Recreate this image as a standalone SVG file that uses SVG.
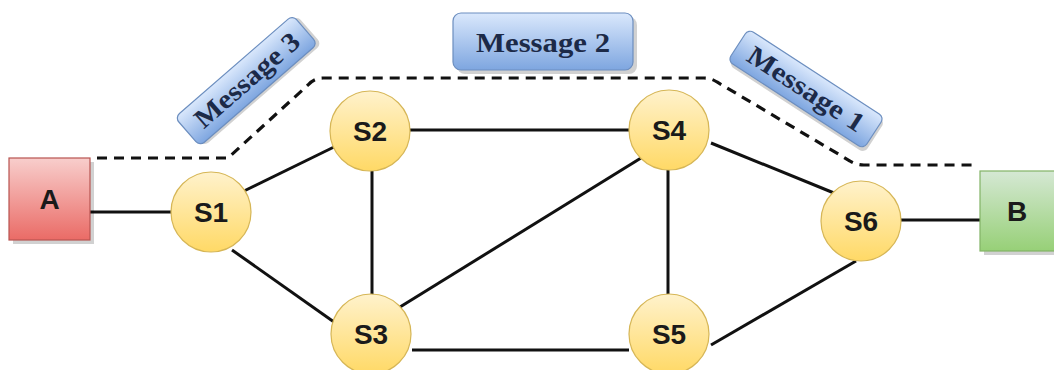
<svg xmlns="http://www.w3.org/2000/svg" width="1054" height="370" viewBox="0 0 1054 370">
  <defs>
    <linearGradient id="gY" x1="0" y1="0" x2="0" y2="1">
      <stop offset="0" stop-color="#fff2cc"/>
      <stop offset="1" stop-color="#ffd966"/>
    </linearGradient>
    <linearGradient id="gR" x1="0" y1="0" x2="0" y2="1">
      <stop offset="0" stop-color="#f8cecc"/>
      <stop offset="1" stop-color="#ea6b66"/>
    </linearGradient>
    <linearGradient id="gG" x1="0" y1="0" x2="0" y2="1">
      <stop offset="0" stop-color="#d5e8d4"/>
      <stop offset="1" stop-color="#97d077"/>
    </linearGradient>
    <linearGradient id="gB" x1="0" y1="0" x2="0" y2="1">
      <stop offset="0" stop-color="#dae8fc"/>
      <stop offset="1" stop-color="#7ea6e0"/>
    </linearGradient>
  </defs>
  <style>
    .sh { fill: #000; opacity: 0.18; }
    .sw { fill: url(#gY); stroke: #d6b656; stroke-width: 1.2; }
    .lbl { font-family: "Liberation Sans", Arial, sans-serif; font-weight: bold; font-size: 28px; fill: #1a1a1a; text-anchor: middle; }
    .msg { fill: url(#gB); stroke: #6c8ebf; stroke-width: 1.2; }
    .mt { font-family: "Liberation Serif", "Times New Roman", serif; font-weight: bold; font-size: 27px; fill: #1c2a48; text-anchor: middle; }
    .edge { stroke: #111; stroke-width: 3; fill: none; stroke-linecap: butt; }
    .dash { stroke: #111; stroke-width: 3.2; fill: none; stroke-dasharray: 10 7; }
  </style>

  <g id="connectors">
    <line class="edge" x1="90" y1="212" x2="172" y2="212"/>
    <line class="edge" x1="244" y1="191" x2="334" y2="147"/>
    <line class="edge" x1="232" y1="250" x2="334" y2="322"/>
    <line class="edge" x1="410" y1="130" x2="629" y2="130"/>
    <line class="edge" x1="372" y1="171" x2="372" y2="295"/>
    <line class="edge" x1="400" y1="307" x2="641" y2="158"/>
    <line class="edge" x1="412" y1="350" x2="629" y2="350"/>
    <line class="edge" x1="668" y1="170" x2="668" y2="294"/>
    <line class="edge" x1="711" y1="143" x2="834" y2="193"/>
    <line class="edge" x1="711" y1="345" x2="856" y2="261"/>
    <line class="edge" x1="901" y1="220" x2="980" y2="220"/>
    <path class="dash" d="M97,158 H228 L308,85 Q314,78 323,78 H704 Q711,78 717,82 L850,161 Q856,165 864,165 H975"/>
  </g>

  <g id="A">
    <rect class="sh" x="13" y="162" width="81" height="82"/>
    <rect x="9" y="158" width="81" height="82" fill="url(#gR)" stroke="#b85450" stroke-width="1.2"/>
    <text class="lbl" x="49.5" y="209">A</text>
  </g>
  <g id="B">
    <rect class="sh" x="984" y="175" width="72" height="80"/>
    <rect x="980" y="171" width="80" height="80" fill="url(#gG)" stroke="#82b366" stroke-width="1.2"/>
    <text class="lbl" x="1017" y="221">B</text>
  </g>

  <g id="S1">
    <circle class="sw" cx="211" cy="212" r="40"/>
    <text class="lbl" x="211" y="222">S1</text>
  </g>
  <g id="S2">
    <circle class="sw" cx="370" cy="131" r="40"/>
    <text class="lbl" x="370" y="141">S2</text>
  </g>
  <g id="S3">
    <circle class="sw" cx="371" cy="334" r="40"/>
    <text class="lbl" x="371" y="344">S3</text>
  </g>
  <g id="S4">
    <circle class="sw" cx="669" cy="130" r="40"/>
    <text class="lbl" x="669" y="140">S4</text>
  </g>
  <g id="S5">
    <circle class="sw" cx="669" cy="334" r="40"/>
    <text class="lbl" x="669" y="344">S5</text>
  </g>
  <g id="S6">
    <circle class="sw" cx="861" cy="221" r="40"/>
    <text class="lbl" x="861" y="231">S6</text>
  </g>

  <g id="Message2">
    <rect class="sh" x="457" y="17" width="180" height="57" rx="8"/>
    <rect class="msg" x="453" y="13" width="180" height="57" rx="8"/>
    <text class="mt" x="543" y="52" textLength="134" lengthAdjust="spacingAndGlyphs">Message 2</text>
  </g>
  <g id="Message3" transform="translate(247,80) rotate(-41)">
    <rect class="sh" x="-76" y="-16" width="156" height="38" rx="6"/>
    <rect class="msg" x="-79" y="-19" width="156" height="38" rx="6"/>
    <text class="mt" x="0" y="9" textLength="130" lengthAdjust="spacingAndGlyphs">Message 3</text>
  </g>
  <g id="Message1" transform="translate(806,89) rotate(33)">
    <rect class="sh" x="-78" y="-16" width="162" height="38" rx="6"/>
    <rect class="msg" x="-81" y="-19" width="162" height="38" rx="6"/>
    <text class="mt" x="0" y="9" textLength="134" lengthAdjust="spacingAndGlyphs">Message 1</text>
  </g>
</svg>
